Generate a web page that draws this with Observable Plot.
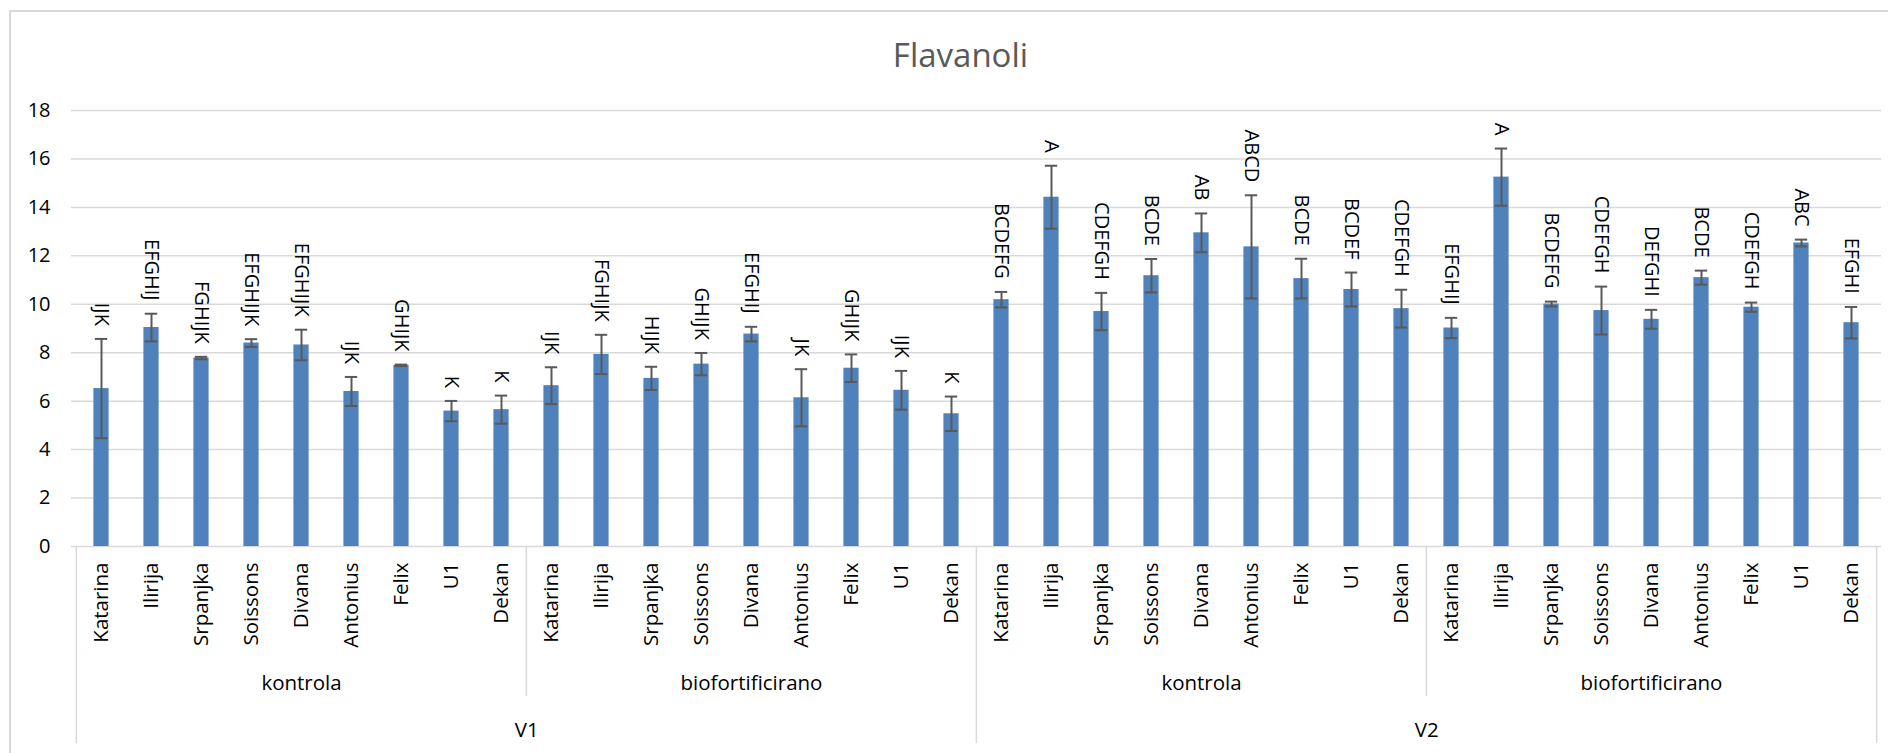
<!DOCTYPE html>
<html><head><meta charset="utf-8">
<script src="https://cdn.jsdelivr.net/npm/d3@7"></script>
<script src="https://cdn.jsdelivr.net/npm/@observablehq/plot@0.6"></script>
<style>
body{margin:0;background:#fff;}
#wrap{position:relative;width:1888px;height:753px;overflow:hidden;background:#fff;}
#frame{position:absolute;left:9px;top:10px;width:1900px;height:800px;border-left:2px solid #d9d9d9;border-top:2px solid #d9d9d9;}
#chart{position:absolute;left:0;top:0;}
</style></head><body>
<div id="wrap"><div id="frame"></div><div id="chart"></div></div>
<script>
const title = "Flavanoli";
const years = ["V1", "V2"];
const treatments = ["kontrola", "biofortificirano"];
const varieties = ["Katarina", "Ilirija", "Srpanjka", "Soissons", "Divana", "Antonius", "Felix", "U1", "Dekan"];
const yTicks = [0, 2, 4, 6, 8, 10, 12, 14, 16, 18];
const values = [
  6.52, 9.04, 7.78, 8.40, 8.32, 6.40, 7.48, 5.59, 5.65,
  6.64, 7.93, 6.94, 7.53, 8.77, 6.14, 7.36, 6.45, 5.48,
  10.19, 14.42, 9.70, 11.18, 12.95, 12.37, 11.06, 10.61, 9.82,
  9.02, 15.25, 10.01, 9.74, 9.38, 11.10, 9.88, 12.53, 9.24
];
const errors = [
  2.05, 0.57, 0.05, 0.16, 0.63, 0.60, 0.03, 0.42, 0.58,
  0.76, 0.81, 0.48, 0.46, 0.30, 1.18, 0.57, 0.80, 0.71,
  0.32, 1.30, 0.77, 0.69, 0.80, 2.13, 0.82, 0.70, 0.78,
  0.42, 1.18, 0.10, 0.99, 0.39, 0.29, 0.19, 0.14, 0.65
];
const letters = [
  "IJK", "EFGHIJ", "FGHIJK", "EFGHIJK", "EFGHIJK", "IJK", "GHIJK", "K", "K",
  "IJK", "FGHIJK", "HIJK", "GHIJK", "EFGHIJ", "JK", "GHIJK", "IJK", "K",
  "BCDEFG", "A", "CDEFGH", "BCDE", "AB", "ABCD", "BCDE", "BCDEF", "CDEFGH",
  "EFGHIJ", "A", "BCDEFG", "CDEFGH", "DEFGHI", "BCDE", "CDEFGH", "ABC", "EFGHI"
];

const rows = [];
years.forEach(yr => treatments.forEach(tr => varieties.forEach(v => {
  const i = rows.length;
  rows.push({key: `${yr}|${tr}|${v}`, year: yr, treat: tr, variety: v,
             value: values[i], err: errors[i], letter: letters[i]});
})));
const keys = rows.map(d => d.key);
const nV = varieties.length;

const W = 1888, H = 753, mL = 71, mR = 7, mT = 110, mB = 207;
const bw = (W - mL - mR) / keys.length;
const font = "'Open Sans', sans-serif";
const grid = "#d9d9d9";

const treatStarts = keys.filter((k, i) => i % nV === 0 && i % (2 * nV) !== 0);
const yearStarts = keys.filter((k, i) => i % (2 * nV) === 0);
const treatMids = keys.filter((k, i) => i % nV === Math.floor(nV / 2));
const yearMids = keys.filter((k, i) => i % (2 * nV) === nV - 1);

const chart = Plot.plot({
  width: W, height: H,
  marginLeft: mL, marginRight: mR, marginTop: mT, marginBottom: mB,
  style: {fontFamily: font, background: "transparent", color: "#000", overflow: "visible"},
  x: {type: "band", domain: keys, padding: 0, axis: null},
  y: {domain: [0, 18], axis: null},
  marks: [
    Plot.ruleY(yTicks, {stroke: grid, strokeWidth: 1.5}),
    Plot.axisY({ticks: yTicks, tickSize: 0, tickPadding: 21, fontSize: 20, label: null}),
    Plot.barY(rows, {x: "key", y: "value", fill: "#4f81bd", insetLeft: 17.4, insetRight: 17.4}),
    Plot.ruleX(rows, {x: "key", y1: d => d.value - d.err, y2: d => d.value + d.err, stroke: "#595959", strokeWidth: 2}),
    Plot.tickY(rows, {x: "key", y: d => d.value + d.err, stroke: "#595959", strokeWidth: 2, insetLeft: 18.8, insetRight: 18.8}),
    Plot.tickY(rows, {x: "key", y: d => d.value - d.err, stroke: "#595959", strokeWidth: 2, insetLeft: 18.8, insetRight: 18.8}),
    Plot.text(rows, {x: "key", y: d => d.value + d.err, text: "letter", rotate: 90, textAnchor: "end", lineAnchor: "middle", dy: -13, fontSize: 20, fill: "#000"}),
    // category table
    Plot.axisX({tickFormat: k => k.split("|")[2], tickRotate: -90, tickSize: 0, tickPadding: 16, fontSize: 20.5, label: null}),
    Plot.axisX({ticks: treatMids, tickFormat: k => k.split("|")[1], tickSize: 0, tickPadding: 129, fontSize: 20.5, label: null}),
    Plot.axisX({ticks: yearMids, tickFormat: k => k.split("|")[0], tickSize: 0, tickPadding: 176, fontSize: 20.5, dx: bw / 2, label: null}),
    Plot.axisX({ticks: treatStarts, tickFormat: () => "", tickSize: 150, dx: -bw / 2, stroke: grid, strokeWidth: 1.5, label: null}),
    Plot.axisX({ticks: yearStarts, tickFormat: () => "", tickSize: 197, dx: -bw / 2, stroke: grid, strokeWidth: 1.5, label: null}),
    Plot.axisX({ticks: [keys[keys.length - 1]], tickFormat: () => "", tickSize: 197, dx: bw / 2, stroke: grid, strokeWidth: 1.5, label: null}),
    Plot.text([title], {frameAnchor: "top", dx: -16, dy: -54, lineAnchor: "middle", fontSize: 33, fill: "#595959"})
  ]
});
document.getElementById("chart").appendChild(chart);
</script>
</body></html>
